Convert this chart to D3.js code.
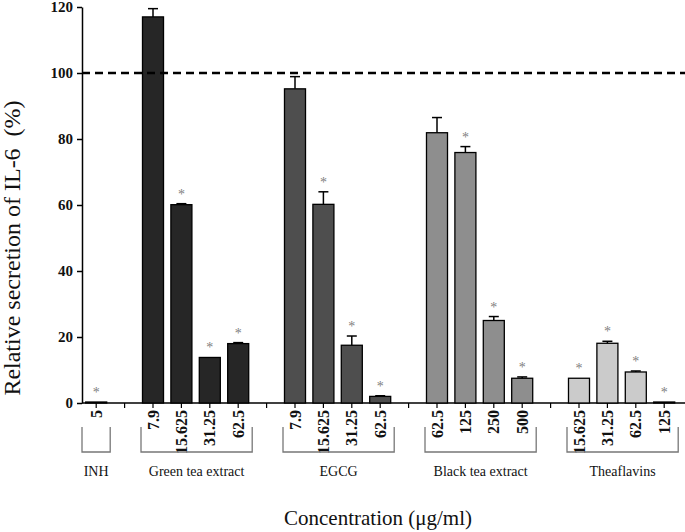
<!DOCTYPE html>
<html>
<head>
<meta charset="utf-8">
<title>IL-6 secretion</title>
<script src="https://d3js.org/d3.v7.min.js"></script>
<style>
  body { margin: 0; background: #fff; }
  text { font-family: "Liberation Serif", "Times New Roman", serif; }
</style>
</head>
<body>
<svg id="chart" width="685" height="532"></svg>
<script>
// groups and their doses
const groups = ["INH", "Green tea extract", "EGCG", "Black tea extract", "Theaflavins"];
const doses = [
  ["5"],
  ["7.9", "15.625", "31.25", "62.5"],
  ["7.9", "15.625", "31.25", "62.5"],
  ["62.5", "125", "250", "500"],
  ["15.625", "31.25", "62.5", "125"]
];
const means = [
  [0.3],
  [117, 60.1, 13.8, 18.0],
  [95.2, 60.2, 17.5, 2.0],
  [81.9, 75.9, 25.0, 7.5],
  [7.5, 18.1, 9.4, 0.3]
];
const errs = [
  [0],
  [2.5, 0.3, 0, 0.3],
  [3.7, 3.8, 2.8, 0.2],
  [4.6, 1.8, 1.2, 0.4],
  [0, 0.6, 0.3, 0]
];
const signif = [
  [true],
  [false, true, true, true],
  [false, true, true, true],
  [false, true, true, true],
  [true, true, true, true]
];
const fills = ["#262626", "#262626", "#4e4e4e", "#8e8e8e", "#cbcbcb"];
const yTicks = [0, 20, 40, 60, 80, 100, 120];
const refLine = 100;

const svg = d3.select("#chart");
const mLeft = 82, mTop = 7, mBottom = 403;

// one slot per bar, one empty slot between groups
let slots = [];
let bars = [];
groups.forEach((g, gi) => {
  if (gi > 0) slots.push("sep" + gi);
  doses[gi].forEach((d, di) => {
    const key = gi + "_" + di;
    slots.push(key);
    bars.push({key: key, group: gi, dose: d, v: means[gi][di], e: errs[gi][di], s: signif[gi][di]});
  });
});

const x = d3.scaleBand().domain(slots).range([mLeft, mLeft + 28.4 * slots.length]).paddingInner(0.26).paddingOuter(0.13);
const y = d3.scaleLinear().domain([0, 120]).range([mBottom, mTop]);
const cx = k => x(k) + x.bandwidth() / 2;

// y axis
const yAxis = svg.append("g").attr("transform", `translate(${mLeft},0)`)
  .call(d3.axisLeft(y).tickValues(yTicks).tickSize(5).tickSizeOuter(0));
yAxis.select(".domain").attr("stroke", "#000").attr("stroke-width", 1.5);
yAxis.selectAll(".tick line").attr("stroke-width", 1.5);
yAxis.selectAll(".tick text").attr("font-size", 15).attr("font-weight", "bold")
  .attr("fill", "#111").attr("dx", -1);

// x axis line with ticks at every slot
svg.append("line").attr("x1", mLeft).attr("x2", 685).attr("y1", mBottom).attr("y2", mBottom)
  .attr("stroke", "#000").attr("stroke-width", 1.5);
svg.append("g").selectAll("line").data(slots).join("line")
  .attr("x1", d => cx(d)).attr("x2", d => cx(d))
  .attr("y1", mBottom).attr("y2", mBottom + 5)
  .attr("stroke", "#000").attr("stroke-width", 1.2);

// bars
svg.append("g").selectAll("rect").data(bars).join("rect")
  .attr("x", d => x(d.key)).attr("width", x.bandwidth())
  .attr("y", d => y(d.v)).attr("height", d => y(0) - y(d.v))
  .attr("fill", d => fills[d.group]).attr("stroke", "#000").attr("stroke-width", 1.3);

// error bars
const eb = svg.append("g").attr("stroke", "#000").attr("stroke-width", 1.5);
bars.filter(d => d.e > 0).forEach(d => {
  eb.append("line").attr("x1", cx(d.key)).attr("x2", cx(d.key)).attr("y1", y(d.v)).attr("y2", y(d.v + d.e));
  eb.append("line").attr("x1", cx(d.key) - 5).attr("x2", cx(d.key) + 5).attr("y1", y(d.v + d.e)).attr("y2", y(d.v + d.e));
});

// significance stars
svg.append("g").selectAll("text").data(bars.filter(d => d.s)).join("text")
  .attr("x", d => cx(d.key)).attr("y", d => y(d.v + d.e) - 5)
  .attr("text-anchor", "middle").attr("font-size", 14).attr("fill", "#808080")
  .text("*");

// dashed reference line
svg.append("line").attr("x1", mLeft).attr("x2", 685).attr("y1", y(refLine)).attr("y2", y(refLine))
  .attr("stroke", "#000").attr("stroke-width", 2.5).attr("stroke-dasharray", "8,5");

// dose labels (rotated)
svg.append("g").selectAll("text").data(bars).join("text")
  .attr("transform", d => `translate(${cx(d.key) + 5.5},${mBottom + 7}) rotate(-90)`)
  .attr("text-anchor", "end").attr("font-size", 16).attr("font-weight", "bold").attr("fill", "#111")
  .text(d => d.dose);

// brackets + group names
groups.forEach((g, gi) => {
  const first = cx(gi + "_0"), last = cx(gi + "_" + (doses[gi].length - 1));
  const x0 = gi === 0 ? mLeft : first - 12, x1 = last + 14;
  svg.append("path")
    .attr("d", `M${x0},427V452H${x1}V427`)
    .attr("fill", "none").attr("stroke", "#777").attr("stroke-width", 1.3);
  svg.append("text").attr("x", (x0 + x1) / 2).attr("y", 476)
    .attr("text-anchor", "middle").attr("font-size", 14).attr("fill", "#111").text(g);
});

// axis titles
svg.append("text").attr("transform", `translate(20,248) rotate(-90)`)
  .attr("text-anchor", "middle").attr("font-size", 24).attr("fill", "#111")
  .text("Relative secretion of IL-6\u00a0\u00a0(%)");
svg.append("text").attr("x", 378).attr("y", 525)
  .attr("text-anchor", "middle").attr("font-size", 21).attr("fill", "#111")
  .text("Concentration (μg/ml)");
</script>
</body>
</html>
